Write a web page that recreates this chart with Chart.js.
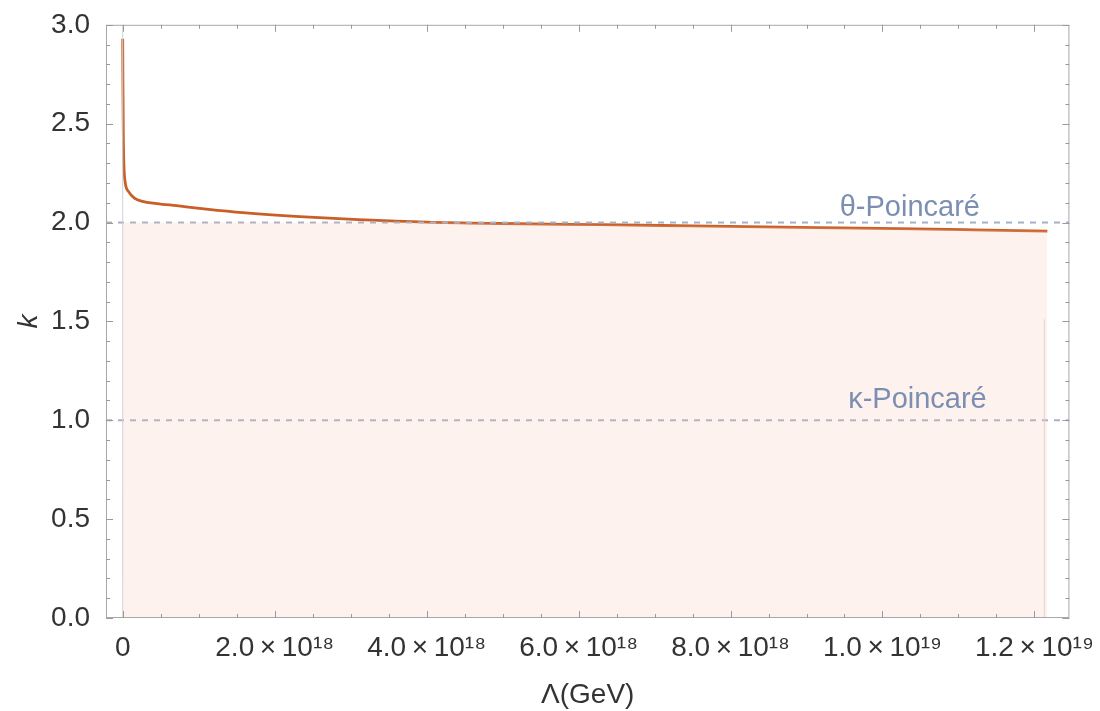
<!DOCTYPE html>
<html>
<head>
    <title>k vs Lambda</title>
    <script src="https://cdn.jsdelivr.net/npm/chart.js"></script>
</head>
<body style="margin: 0; background: #fff">
<div style="width: 1100px; height: 711px">
    <canvas id="chart" width="1100" height="711"></canvas>
</div>

    <script>
        // curve (Lambda in GeV)
        var lambdaGeV = [0, 0.003e18, 0.008e18, 0.015e18, 0.03e18, 0.08e18, 0.15e18, 0.26e18, 0.45e18, 0.71e18,
                         1.1e18, 1.58e18, 2.33e18, 3.1e18, 4.0e18, 5.0e18, 6.3e18, 7.5e18, 8.9e18, 10.2e18,
                         11.2e18, 12.17e18];
        var kValues = [2.93, 2.7, 2.45, 2.3, 2.21, 2.155, 2.125, 2.107, 2.096, 2.085,
                       2.068, 2.05, 2.03, 2.015, 2.002, 1.995, 1.989, 1.983, 1.976, 1.969,
                       1.963, 1.957];
        // reference levels
        var refLevels = [2.0, 1.0];
        var refNames = ['θ-Poincaré', 'κ-Poincaré'];
        var refLabelAt = [10.36e18, 10.46e18];
        // axes
        var xMin = -0.22e18, xMax = 12.46e18;
        var xTickValues = [0, 2e18, 4e18, 6e18, 8e18, 1e19, 1.2e19];
        var xTickLabels = ['0', '2.0\u2009×\u200910¹⁸', '4.0\u2009×\u200910¹⁸', '6.0\u2009×\u200910¹⁸',
                           '8.0\u2009×\u200910¹⁸', '1.0\u2009×\u200910¹⁹', '1.2\u2009×\u200910¹⁹'];
        var yMin = 0, yMax = 3, yStep = 0.5;
        // thin edge of the filled region
        var edgeLambda = 12.13e18, edgeTop = 1.51;

        var fontFam = "'Liberation Sans', Arial, sans-serif";

        var curve = lambdaGeV.map(function(v, i) { return {x: v, y: kValues[i]}; });
        var filled = lambdaGeV.map(function(v, i) { return {x: v, y: Math.min(kValues[i], refLevels[0])}; });

        var framePlugin = {
            id: 'frame',
            afterDatasetsDraw: function(chart) {
                var c = chart.ctx, a = chart.chartArea;
                var xs = chart.scales.x, ys = chart.scales.y;
                c.save();
                c.strokeStyle = '#a8a8a8';
                c.lineWidth = 1;
                c.strokeRect(a.left + 0.5, a.top + 0.5, a.right - a.left - 1, a.bottom - a.top - 1);
                c.strokeStyle = '#9a9a9a';
                c.beginPath();
                for (var v = 0; v <= 12.4e18; v += 0.5e18) {
                    var px = Math.round(xs.getPixelForValue(v)) + 0.5;
                    var len = (Math.round(v / 0.5e18) % 4 === 0) ? 7 : 4;
                    c.moveTo(px, a.bottom); c.lineTo(px, a.bottom - len);
                    c.moveTo(px, a.top); c.lineTo(px, a.top + len);
                }
                for (var j = 0; j <= 30; j++) {
                    var py = Math.round(ys.getPixelForValue(j / 10)) + 0.5;
                    var l2 = (j % 5 === 0) ? 7 : 4;
                    c.moveTo(a.left, py); c.lineTo(a.left + l2, py);
                    c.moveTo(a.right, py); c.lineTo(a.right - l2, py);
                }
                c.stroke();
                // reference labels
                c.fillStyle = '#7c8fb2';
                c.font = '29px ' + fontFam;
                c.textAlign = 'center';
                c.textBaseline = 'alphabetic';
                var lift = [7, 12];
                for (var i = 0; i < refNames.length; i++) {
                    c.fillText(refNames[i], xs.getPixelForValue(refLabelAt[i]), ys.getPixelForValue(refLevels[i]) - lift[i]);
                }
                c.restore();
            }
        };

        var datasets = [{
            label: 'fill',
            data: filled,
            borderColor: 'rgba(0,0,0,0)',
            borderWidth: 0,
            backgroundColor: 'rgba(245,190,170,0.2)',
            fill: 'origin',
            pointRadius: 0,
            cubicInterpolationMode: 'monotone',
        },{
            label: 'axis',
            data: [{x: 0, y: yMin}, {x: 0, y: yMax}],
            borderColor: '#cdd2dc',
            borderWidth: 1,
            pointRadius: 0,
        },{
            label: 'edge',
            data: [{x: edgeLambda, y: 0}, {x: edgeLambda, y: edgeTop}],
            borderColor: '#d8d8d8',
            borderWidth: 1,
            pointRadius: 0,
        }];
        refLevels.forEach(function(lv) {
            datasets.push({
                label: 'ref',
                data: [{x: xMin, y: lv}, {x: xMax, y: lv}],
                borderColor: '#a6b2c6',
                borderWidth: 2,
                borderDash: [6, 6],
                pointRadius: 0,
            });
        });
        datasets.push({
            label: 'k',
            data: curve,
            borderColor: '#c95f26',
            borderWidth: 2.8,
            pointRadius: 0,
            fill: false,
            cubicInterpolationMode: 'monotone',
        });

        var ctx = document.getElementById('chart').getContext('2d');
        var chart = new Chart(ctx, {
            type: 'line',
            data: { datasets: datasets },
            options: {
                responsive: false,
                animation: false,
                layout: { padding: { top: 22, right: 30, left: 0, bottom: 0 } },
                plugins: { legend: { display: false }, tooltip: { enabled: false } },
                scales: {
                    x: {
                        type: 'linear',
                        min: xMin,
                        max: xMax,
                        grid: { display: false },
                        border: { display: false },
                        afterBuildTicks: function(scale) {
                            scale.ticks = xTickValues.map(function(v) { return {value: v}; });
                        },
                        afterFit: function(scale) { scale.height = 93; },
                        ticks: {
                            autoSkip: false,
                            maxRotation: 0,
                            padding: 5,
                            color: '#333',
                            font: { family: fontFam, size: 28 },
                            callback: function(v) {
                                var i = xTickValues.indexOf(v);
                                return i >= 0 ? xTickLabels[i] : '';
                            }
                        },
                        title: {
                            display: true,
                            text: 'Λ(GeV)',
                            color: '#333',
                            font: { family: fontFam, size: 28, lineHeight: 1.1 },
                            padding: { top: 0, bottom: 0 }
                        }
                    },
                    y: {
                        min: yMin,
                        max: yMax,
                        grid: { display: false },
                        border: { display: false },
                        afterFit: function(scale) { scale.width = 106; },
                        ticks: {
                            stepSize: yStep,
                            padding: 8,
                            color: '#333',
                            font: { family: fontFam, size: 28 },
                            callback: function(v) { return v.toFixed(1); }
                        },
                        title: {
                            display: true,
                            text: 'k',
                            color: '#333',
                            font: { family: fontFam, size: 28, style: 'italic' },
                            padding: { top: 12, bottom: 0 }
                        }
                    }
                }
            },
            plugins: [framePlugin]
        });
    </script>
</body>
</html>
